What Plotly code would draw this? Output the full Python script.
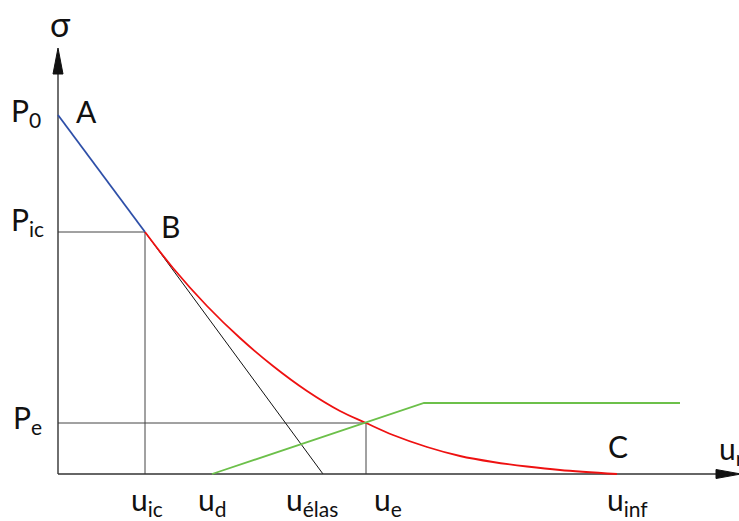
import plotly.graph_objects as go

# key levels (arbitrary units)
P0 = 3.59
P_ic = 2.42
P_e = 0.51
P_sout = 0.71          # plateau of the support curve

u_ic = 0.87
u_d = 1.54
u_elas = 2.65
u_e = 3.08
u_sout = 3.66          # end of the elastic part of the support curve
u_sout_end = 6.22
u_inf = 5.59

# plastic part of the convergence curve, B -> C
u_plast = [0.87, 1.15, 1.49, 1.82, 2.15, 2.49, 2.82, 3.08, 3.35, 3.69, 4.02, 4.35, 4.69, 5.02, 5.59]
s_plast = [2.42, 2.06, 1.68, 1.36, 1.08, 0.83, 0.63, 0.51, 0.39, 0.27, 0.18, 0.12, 0.075, 0.04, 0.0]

# axes extent
x_tip = 6.83
y_tip = 4.26

FONT = "Lato"
BLUE = "#2e4fa8"
RED = "#ee1111"
GREEN = "#6cc04a"
GREY = "#444444"


def line(x, y, color, width=1.0, shape="linear"):
    return go.Scatter(x=x, y=y, mode="lines", line=dict(color=color, width=width, shape=shape),
                      hoverinfo="skip", showlegend=False)


fig = go.Figure()

# helper lines
fig.add_trace(line([0, u_ic, u_ic], [P_ic, P_ic, 0], GREY))
fig.add_trace(line([0, u_e, u_e], [P_e, P_e, 0], GREY))
fig.add_trace(line([u_ic, u_elas], [P_ic, 0], "#111111"))

# axes with arrowheads
fig.add_trace(line([0, x_tip - 0.24], [0, 0], "#333333", 1.4))
fig.add_trace(line([0, 0], [0, y_tip - 0.25], "#333333", 1.4))
fig.add_trace(go.Scatter(x=[x_tip - 0.25, x_tip, x_tip - 0.25, x_tip - 0.25], y=[0.045, 0, -0.045, 0.045],
                         mode="lines", fill="toself", fillcolor="#111111", line=dict(color="#111111", width=1),
                         hoverinfo="skip", showlegend=False))
fig.add_trace(go.Scatter(x=[-0.05, 0, 0.05, -0.05], y=[y_tip - 0.26, y_tip, y_tip - 0.26, y_tip - 0.26],
                         mode="lines", fill="toself", fillcolor="#111111", line=dict(color="#111111", width=1),
                         hoverinfo="skip", showlegend=False))

# convergence curve (elastic then plastic)
fig.add_trace(line([0, u_ic], [P0, P_ic], BLUE, 1.8))
fig.add_trace(line(u_plast, s_plast, RED, 1.8, "spline"))

# support confinement curve
fig.add_trace(line([u_d, u_sout, u_sout_end], [0, P_sout, P_sout], GREEN, 1.8))

labels = [
    ("σ", 0.02, 4.51, "center", 34),
    ("P<sub>0</sub>", -0.15, 3.62, "right", 30),
    ("A", 0.28, 3.63, "center", 30),
    ("P<sub>ic</sub>", -0.12, 2.53, "right", 30),
    ("B", 1.12, 2.48, "center", 30),
    ("P<sub>e</sub>", -0.14, 0.55, "right", 30),
    ("C", 5.60, 0.28, "center", 30),
    ("u<sub>r</sub>", 6.59, 0.24, "left", 30),
    ("u<sub>ic</sub>", 0.89, -0.27, "center", 30),
    ("u<sub>d</sub>", 1.54, -0.27, "center", 30),
    ("u<sub>élas</sub>", 2.54, -0.27, "center", 30),
    ("u<sub>e</sub>", 3.30, -0.27, "center", 30),
    ("u<sub>inf</sub>", 5.69, -0.27, "center", 30),
]
for text, x, y, anchor, size in labels:
    fig.add_annotation(x=x, y=y, text=text, showarrow=False, xanchor=anchor, yanchor="middle",
                       font=dict(family=FONT, size=size, color="#111111"))

fig.update_layout(
    width=739, height=521,
    margin=dict(l=0, r=0, t=0, b=0),
    paper_bgcolor="white", plot_bgcolor="white",
    xaxis=dict(range=[-0.58, 6.81], visible=False, fixedrange=True),
    yaxis=dict(range=[-0.47, 4.74], visible=False, fixedrange=True),
)

# drop the default page margin so the figure sits at the window's top-left corner
fig.write_html("out.html", config={"displayModeBar": False},
               post_script="document.body.style.margin='0';document.body.style.overflow='hidden';")
